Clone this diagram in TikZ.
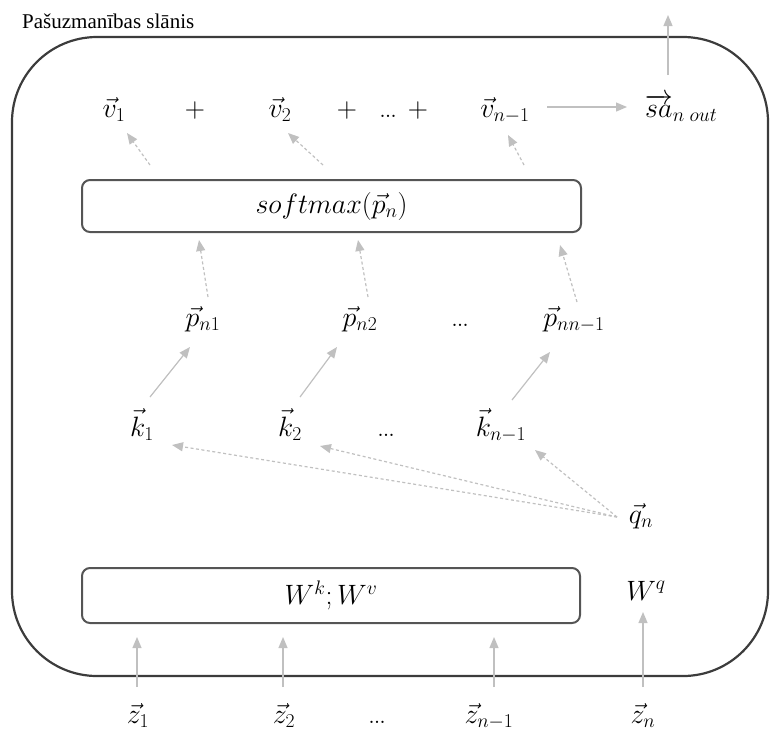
\RequirePackage{fix-cm}
\documentclass[tikz,border=0pt]{standalone}
\usepackage{amsmath}
\usepackage{fontspec}
\newfontfamily\titlefont{Liberation Serif}
\usetikzlibrary{arrows.meta}

\definecolor{framegray}{RGB}{60,60,60}
\definecolor{boxgray}{RGB}{85,85,85}
\definecolor{arrowgray}{RGB}{192,192,192}

% closely set ellipsis
\newcommand{\tightdots}{.\kern-1.5pt.\kern-1.5pt.}

\tikzset{
  sym/.style={anchor=base, inner sep=0pt, font=\fontsize{28}{32}\selectfont},
  layerbox/.style={draw=boxgray, line width=2pt, rounded corners=8pt,
    inner sep=0pt, font=\fontsize{28}{32}\selectfont},
  flow/.style={draw=arrowgray, line width=1.2pt,
    -{Triangle[length=11pt,width=9pt]}},
  weakflow/.style={flow, dash pattern=on 3pt off 2.5pt},
}

\begin{document}
\begin{tikzpicture}[x=1pt, y=-1pt]
\useasboundingbox (0,0) rectangle (770,732);

% layer frame and its caption
\draw[framegray, line width=2.2pt, rounded corners=85pt] (12,37) rectangle (768,676);
\node[anchor=base west, inner sep=0pt, font=\titlefont\fontsize{21}{24}\selectfont]
  (title) at (22,28) {Pašuzmanības slānis};

% weighted sum of values and the output
\node[sym] (v1)  at (114,117) {$\vec{v}_1$};
\node[sym] (pl1) at (195,117) {$+$};
\node[sym] (v2)  at (280,117) {$\vec{v}_2$};
\node[sym] (pl2) at (347,117) {$+$};
\node[sym] (dv)  at (388,117) {\tightdots};
\node[sym] (pl3) at (418,117) {$+$};
\node[sym] (vn)  at (505,117) {$\vec{v}_{n-1}$};
\node[sym] (sa)  at (681,117) {$\overrightarrow{sa}_{n\;out}$};
\coordinate (out) at (668,15);

% softmax block
\node[layerbox, minimum width=499pt, minimum height=52pt] (soft) at (331.5,206)
  {$softmax(\vec{p}_n)$};

% scores
\node[sym] (p1) at (203,326) {$\vec{p}_{n1}$};
\node[sym] (p2) at (360,326) {$\vec{p}_{n2}$};
\node[sym] (dp) at (460,326) {\tightdots};
\node[sym] (pn) at (574,326) {$\vec{p}_{nn-1}$};

% keys
\node[sym] (k1) at (142,436) {$\vec{k}_1$};
\node[sym] (k2) at (290,436) {$\vec{k}_2$};
\node[sym] (dk) at (386,436) {\tightdots};
\node[sym] (kn) at (501,436) {$\vec{k}_{n-1}$};

% query
\node[sym] (q) at (641,523) {$\vec{q}_n$};

% projection weights
\node[layerbox, minimum width=498pt, minimum height=55pt] (wkv) at (331,595.5)
  {$W^k;W^v$};
\node[sym] (wq) at (646,600) {$W^q$};

% inputs
\node[sym] (z1) at (138,723) {$\vec{z}_1$};
\node[sym] (z2) at (284,723) {$\vec{z}_2$};
\node[sym] (dz) at (377,723) {\tightdots};
\node[sym] (zn1) at (489,723) {$\vec{z}_{n-1}$};
\node[sym] (zn) at (643,723) {$\vec{z}_n$};

% inputs into the projections
\draw[flow] ([shift={(-1,-36)}]z1.base)  -- ([shift={(-194,41.5)}]wkv.center);
\draw[flow] ([shift={(-1,-36)}]z2.base)  -- ([shift={(-48,41.5)}]wkv.center);
\draw[flow] ([shift={(5,-36)}]zn1.base)  -- ([shift={(163,41.5)}]wkv.center);
\draw[flow] ([shift={(0,-36)}]zn.base)   -- ([shift={(-3,12)}]wq.base);

% query compared with every key
\draw[weakflow] ([shift={(-24,-6)}]q.base) -- ([shift={(30,9)}]k1.base);
\draw[weakflow] ([shift={(-24,-6)}]q.base) -- ([shift={(30,10)}]k2.base);
\draw[weakflow] ([shift={(-24,-6)}]q.base) -- ([shift={(34,14)}]kn.base);

% keys to scores
\draw[flow] ([shift={(8,-39)}]k1.base)  -- ([shift={(-13,21)}]p1.base);
\draw[flow] ([shift={(10,-39)}]k2.base) -- ([shift={(-23,21)}]p2.base);
\draw[flow] ([shift={(11,-36)}]kn.base) -- ([shift={(-24,26)}]pn.base);

% scores into softmax
\draw[weakflow] ([shift={(5,-29)}]p1.base) -- ([shift={(-132.5,34)}]soft.center);
\draw[weakflow] ([shift={(8,-29)}]p2.base) -- ([shift={(26.5,34)}]soft.center);
\draw[weakflow] ([shift={(3,-24)}]pn.base) -- ([shift={(228.5,39)}]soft.center);

% softmax weights onto values
\draw[weakflow] ([shift={(-181.5,-41)}]soft.center) -- ([shift={(13,16)}]v1.base);
\draw[weakflow] ([shift={(-8.5,-41)}]soft.center)   -- ([shift={(8,16)}]v2.base);
\draw[weakflow] ([shift={(192.5,-41)}]soft.center)  -- ([shift={(3,18)}]vn.base);

% sum to output and out of the layer
\draw[flow] ([shift={(42,-10)}]vn.base) -- ([shift={(-54,-10)}]sa.base);
\draw[flow] ([shift={(-13,-42)}]sa.base) -- (out);
\end{tikzpicture}
\end{document}
